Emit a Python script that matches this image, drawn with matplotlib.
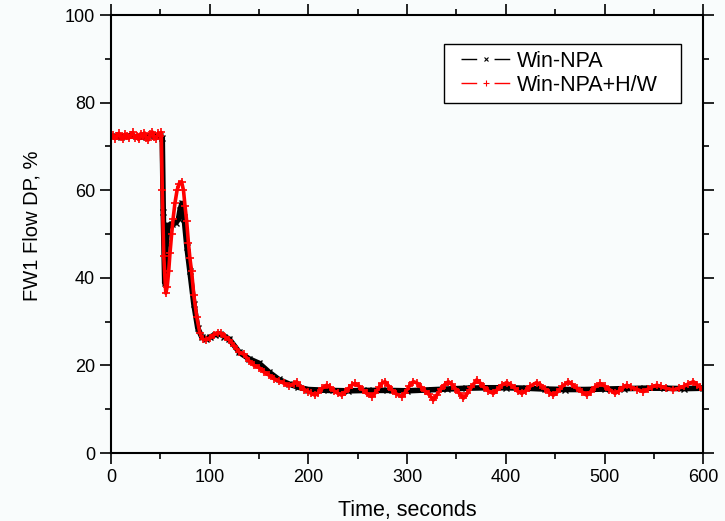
import numpy as np
import matplotlib.pyplot as plt
from matplotlib.lines import Line2D
from matplotlib.patches import Rectangle

plt.rcParams['font.family'] = ['Liberation Sans', 'DejaVu Sans']

# Win-NPA (black, x markers)
t_npa = [0, 10, 20, 30, 40, 50, 52, 53, 54.5, 56, 58, 62, 66, 68.5, 70, 72, 74, 77,
         80, 84, 88, 92, 96, 100, 105, 110, 115, 120, 130, 140, 150, 160, 170, 180,
         190, 200, 220, 240, 260, 280, 300, 320, 340, 360, 380, 400, 420, 440, 460,
         480, 500, 520, 540, 560, 580, 600]
y_npa = [72.3, 72.2, 72.4, 72.1, 72.5, 72.3, 72.0, 55, 38.8, 48, 52, 52.3, 52.6, 53.5,
         55.5, 57, 54, 47, 41.5, 34, 28.5, 26.5, 26.0, 26.4, 27.0, 27.2, 26.6, 26.0,
         23.0, 21.5, 20.5, 18.5, 16.8, 15.8, 15.0, 14.5, 14.3, 14.2, 14.3, 14.3, 14.2,
         14.4, 14.6, 14.8, 14.9, 14.9, 14.8, 14.6, 14.5, 14.5, 14.6, 14.7, 14.8, 14.8,
         14.7, 14.8]

# Win-NPA+H/W (red, + markers)
t_hw = [0, 2, 4, 6, 8, 10, 12, 14, 16, 18, 20, 22, 24, 26, 28, 30, 32, 34, 36, 38, 40,
        42, 44, 46, 48, 50, 51, 52, 53.5, 55.6, 57, 58.5, 59.8, 61.5, 63, 64.8, 67, 69,
        71.5, 73.5, 75, 76.7, 78.5, 80, 81.7, 84, 87, 90, 93, 96, 100, 104, 108, 112,
        116, 120, 125, 130, 135, 140, 145, 150, 155, 160, 165, 170, 175, 180, 185, 188,
        192, 196, 200, 203, 206.7, 210, 214, 218.5, 222, 226, 230, 233.7, 237, 241,
        244, 247.2, 251, 255, 259, 264, 268, 272, 275, 277.6, 281, 285, 289, 294.5,
        298, 302, 306.3, 310, 314, 318, 322, 326.6, 330, 334, 338, 341.8, 345, 349,
        353, 357, 361, 365, 370.5, 374, 378, 382, 387.4, 391, 396, 400.9, 405, 409,
        412, 416.1, 420, 425, 431.3, 435, 440, 444, 448.2, 452, 457, 463.4, 467, 472,
        477, 482, 486, 490, 495.4, 500, 505, 510.6, 515, 519, 522.5, 527, 533, 539.3,
        544, 548, 552.9, 557, 562, 569.7, 575, 580, 585, 590, 594, 597, 600]
y_hw = [72.0, 72.6, 71.8, 72.4, 73.0, 72.2, 71.7, 72.8, 72.3, 71.9, 72.6, 73.2, 72.0,
        72.5, 71.6, 72.9, 72.3, 73.1, 72.0, 71.5, 72.8, 73.3, 72.1, 71.8, 73.0, 72.4,
        73.2, 60, 45, 36.5, 38, 41.5, 45.6, 50, 53.5, 57, 60, 61.5, 62, 60, 56.5, 53,
        48, 44.5, 41.5, 36, 31, 27.5, 26.0, 25.8, 26.3, 27.0, 27.5, 27.3, 26.5, 25.8,
        24.5, 23.0, 22.5, 21.0, 20.0, 19.5, 18.5, 17.8, 17.0, 16.4, 16.0, 15.3, 15.8,
        16.3, 15.2, 14.5, 14.0, 13.6, 13.2, 13.8, 14.8, 15.5, 15.0, 14.2, 13.6, 13.2,
        13.9, 14.8, 15.5, 15.9, 15.3, 14.5, 13.6, 12.9, 13.8, 15.1, 16.0, 16.3, 15.4,
        14.3, 13.5, 12.9, 13.8, 15.2, 16.3, 16.0, 15.1, 14.2, 13.4, 12.1, 13.2, 14.6,
        15.6, 16.3, 15.7, 14.7, 13.6, 12.5, 13.6, 15.0, 16.7, 16.0, 15.0, 14.2, 13.6,
        14.4, 15.5, 16.1, 15.6, 14.8, 14.1, 13.6, 14.2, 15.3, 16.1, 15.6, 14.6, 13.8,
        13.2, 13.9, 15.2, 16.3, 15.7, 14.8, 14.0, 13.2, 14.0, 15.0, 15.9, 15.3, 14.5,
        13.6, 14.2, 15.0, 15.5, 15.0, 14.5, 14.0, 14.6, 15.1, 15.5, 15.2, 14.8, 14.4,
        14.8, 15.2, 15.8, 16.3, 15.6, 15.0, 14.4]

bg = '#f9fcfc'
fig = plt.figure(figsize=(7.25, 5.21), dpi=100, facecolor=bg)
ax = fig.add_axes([0.153, 0.1305, 0.817, 0.8405], facecolor=bg)

ax.plot(t_npa, y_npa, color='black', lw=4, marker='x', ms=4.5, mew=1)
ax.plot(t_hw, y_hw, color='red', lw=2.6, marker='+', ms=5.5, mew=1.2)

ax.set_xlim(0, 600)
ax.set_ylim(0, 100)
ax.set_xticks(np.arange(0, 601, 100))
ax.set_xticks(np.arange(0, 601, 50), minor=True)
ax.set_yticks(np.arange(0, 101, 20))
ax.set_yticks(np.arange(0, 101, 10), minor=True)
ax.tick_params(which='both', direction='out', top=True, right=True,
               labelsize=13, width=1.2)
ax.tick_params(which='major', length=8)
ax.tick_params(which='minor', length=4.5)
for s in ax.spines.values():
    s.set_linewidth(1.5)

ax.set_xlabel('Time, seconds', fontsize=15.5, labelpad=10)
ax.set_ylabel('FW1 Flow DP, %', fontsize=14.5)
ax.yaxis.set_label_coords(-0.118, 0.518)

# legend frame (wider side padding than matplotlib gives)
ax.add_patch(Rectangle((0.5625, 0.799), 0.3998, 0.135, transform=ax.transAxes,
                       facecolor='white', edgecolor='black', lw=1, zorder=4))

# Origin-style legend keys: line - marker - line
dash = (0, (11.3, 12.5, 11.3, 100))
handles = [Line2D([], [], color='black', lw=1, ls=dash, marker='x', ms=3, mew=0.8),
           Line2D([], [], color='red', lw=1, ls=dash, marker='+', ms=4, mew=0.8)]
leg = ax.legend(handles, ['Win-NPA', 'Win-NPA+H/W'], loc='upper left',
                bbox_to_anchor=(0.591, 0.918), borderaxespad=0, borderpad=0,
                fontsize=15.5, frameon=False, numpoints=1, handlelength=2.28,
                labelspacing=0.12, handletextpad=0.33)
leg.set_zorder(5)

fig.savefig('out.png', dpi=100, facecolor=bg)
